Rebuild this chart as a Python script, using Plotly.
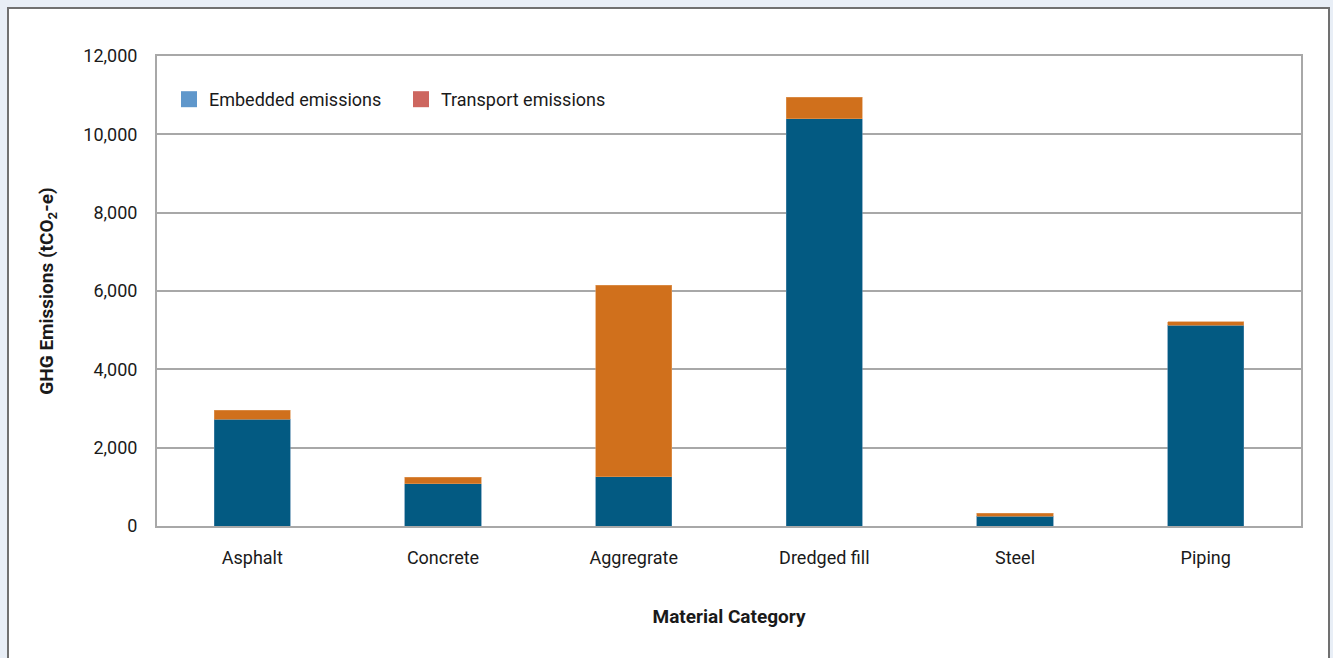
import plotly.graph_objects as go

# Material categories and their GHG emissions (tCO2-e)
categories = ["Asphalt", "Concrete", "Aggregrate", "Dredged fill", "Steel", "Piping"]
embedded = [2720, 1080, 1260, 10400, 255, 5130]
transport = [240, 170, 4890, 550, 75, 80]

legend_names = ["Embedded emissions", "Transport emissions"]
y_ticks = [0, 2000, 4000, 6000, 8000, 10000, 12000]

W, H = 1333, 658
L, R, T, B = 157, 32, 56, 132
pw, ph = W - L - R, H - T - B

FONT = "Roboto, Arial, sans-serif"
BAR_BLUE = "#035a82"
BAR_ORANGE = "#d0701c"
LEG_BLUE = "#5f97cb"
LEG_RED = "#cd665f"
GRID = "#a8a8a8"
TXT = "#1a1a1a"

fig = go.Figure()

fig.add_trace(go.Bar(
    x=categories, y=embedded, name=legend_names[0], showlegend=False,
    marker=dict(color=BAR_BLUE, line=dict(width=0.6, color="#4f86aa")), width=0.4,
))
fig.add_trace(go.Bar(
    x=categories, y=transport, name=legend_names[1], showlegend=False,
    marker=dict(color=BAR_ORANGE, line=dict(width=0.6, color="#e09a5c")), width=0.4,
))

# Legend entries use lighter swatches than the bars; their points sit below
# the axis range so only the legend shows them
for name, col in zip(legend_names, [LEG_BLUE, LEG_RED]):
    fig.add_trace(go.Scatter(
        x=[categories[0]], y=[-5000], mode="markers", name=name, hoverinfo="skip",
        marker=dict(symbol="square", size=16, color=col),
    ))


def px_x(px):
    return (px - L) / pw


def px_y(py):
    return (H - B - py) / ph


# White card with dark border around the chart
fig.add_shape(
    type="rect", xref="paper", yref="paper", layer="below",
    x0=px_x(8), x1=px_x(1329), y0=px_y(720), y1=px_y(8),
    fillcolor="white", line=dict(color="#707070", width=2),
)

fig.update_layout(
    width=W, height=H,
    margin=dict(l=L, r=R, t=T, b=B, pad=0),
    paper_bgcolor="#e8eef6",
    plot_bgcolor="white",
    barmode="stack",
    font=dict(family=FONT, size=18, color=TXT),
    showlegend=True,
    legend=dict(
        orientation="h", traceorder="normal",
        x=px_x(169), y=px_y(81), xanchor="left", yanchor="top",
        bgcolor="rgba(0,0,0,0)", font=dict(family=FONT, size=18, color=TXT),
        entrywidth=187, entrywidthmode="pixels", itemsizing="trace",
    ),
    xaxis=dict(
        showgrid=False, showline=True, linecolor=GRID, linewidth=2, mirror=True,
        ticks="", ticklabelstandoff=14, tickfont=dict(family=FONT, size=18, color=TXT),
        title=dict(text="<b>Material Category</b>", font=dict(family=FONT, size=19, color=TXT),
                   standoff=43),
    ),
    yaxis=dict(
        range=[0, 12000], tickvals=y_ticks, tickformat=",",
        showgrid=True, gridcolor=GRID, gridwidth=1.5,
        showline=True, linecolor=GRID, linewidth=2, mirror=True,
        zeroline=False, ticks="", ticklabelstandoff=14,
        tickfont=dict(family=FONT, size=18, color=TXT),
        title=dict(text="<b>GHG Emissions (tCO<sub>2</sub>-e)</b>",
                   font=dict(family=FONT, size=19, color=TXT), standoff=25),
    ),
)

fig.write_html("out.html")
